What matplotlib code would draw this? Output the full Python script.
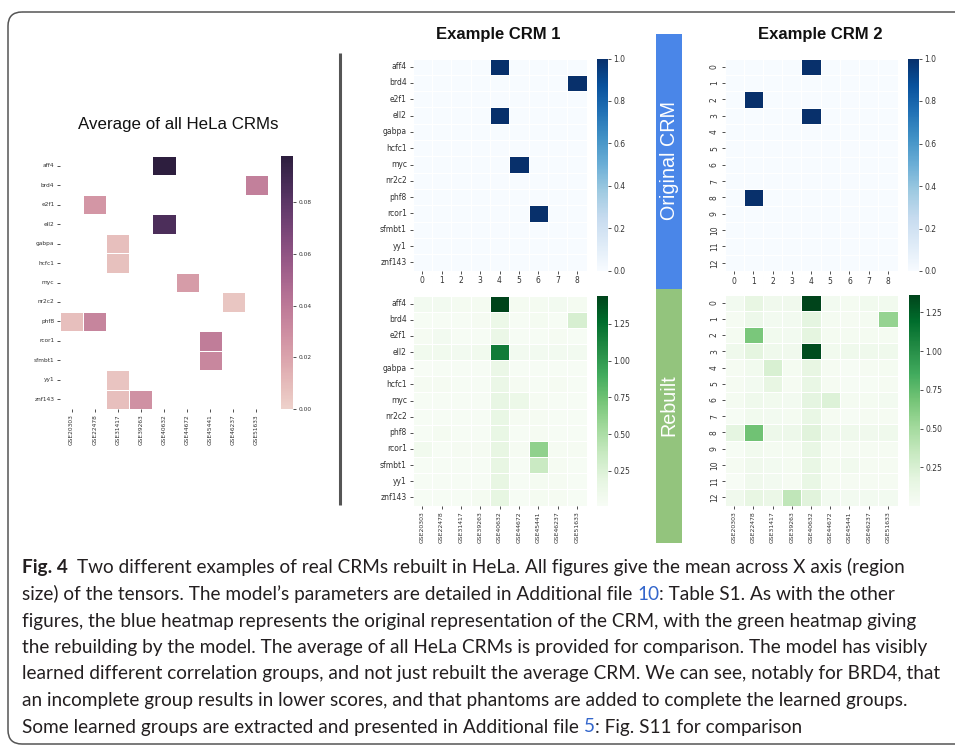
import numpy as np
import matplotlib
matplotlib.use('Agg')
import matplotlib.pyplot as plt
import seaborn as sns
from matplotlib.patches import FancyBboxPatch, Rectangle

W, H = 955, 745

tfs = ['aff4', 'brd4', 'e2f1', 'ell2', 'gabpa', 'hcfc1', 'myc', 'nr2c2',
       'phf8', 'rcor1', 'sfmbt1', 'yy1', 'znf143']
gse = ['GSE20303', 'GSE22478', 'GSE31417', 'GSE39263', 'GSE40632',
       'GSE44672', 'GSE45441', 'GSE46237', 'GSE51633']
col_idx = [str(i) for i in range(9)]
row_idx = [str(i) for i in range(13)]

avg_ticks = [0.0, 0.02, 0.04, 0.06, 0.08]
orig_ticks = [0.0, 0.2, 0.4, 0.6, 0.8, 1.0]
rebuilt_ticks = [0.25, 0.50, 0.75, 1.00, 1.25]

avg_all = np.array([
    [0, 0, 0, 0, 0.098, 0, 0, 0, 0],
    [0, 0, 0, 0, 0, 0, 0, 0, 0.036],
    [0, 0.026, 0, 0, 0, 0, 0, 0, 0],
    [0, 0, 0, 0, 0.086, 0, 0, 0, 0],
    [0, 0, 0.008, 0, 0, 0, 0, 0, 0],
    [0, 0, 0.007, 0, 0, 0, 0, 0, 0],
    [0, 0, 0, 0, 0, 0.023, 0, 0, 0],
    [0, 0, 0, 0, 0, 0, 0, 0.005, 0],
    [0.008, 0.034, 0, 0, 0, 0, 0, 0, 0],
    [0, 0, 0, 0, 0, 0, 0.038, 0, 0],
    [0, 0, 0, 0, 0, 0, 0.033, 0, 0],
    [0, 0, 0.006, 0, 0, 0, 0, 0, 0],
    [0, 0, 0.008, 0.028, 0, 0, 0, 0, 0],
])

crm1_orig = np.array([
    [0, 0, 0, 0, 1, 0, 0, 0, 0],
    [0, 0, 0, 0, 0, 0, 0, 0, 1],
    [0, 0, 0, 0, 0, 0, 0, 0, 0],
    [0, 0, 0, 0, 1, 0, 0, 0, 0],
    [0, 0, 0, 0, 0, 0, 0, 0, 0],
    [0, 0, 0, 0, 0, 0, 0, 0, 0],
    [0, 0, 0, 0, 0, 1, 0, 0, 0],
    [0, 0, 0, 0, 0, 0, 0, 0, 0],
    [0, 0, 0, 0, 0, 0, 0, 0, 0],
    [0, 0, 0, 0, 0, 0, 1, 0, 0],
    [0, 0, 0, 0, 0, 0, 0, 0, 0],
    [0, 0, 0, 0, 0, 0, 0, 0, 0],
    [0, 0, 0, 0, 0, 0, 0, 0, 0],
], dtype=float)

crm1_rebuilt = np.array([
    [0.06, 0.06, 0.05, 0.05, 1.443, 0.05, 0.05, 0.06, 0.05],
    [0.03, 0.03, 0.03, 0.04, 0.13, 0.03, 0.05, 0.03, 0.28],
    [0.04, 0.06, 0.03, 0.03, 0.14, 0.03, 0.03, 0.04, 0.03],
    [0.08, 0.07, 0.06, 0.07, 1.18, 0.06, 0.06, 0.06, 0.06],
    [0.014, 0.03, 0.03, 0.03, 0.14, 0.03, 0.03, 0.03, 0.03],
    [0.04, 0.04, 0.03, 0.03, 0.14, 0.04, 0.03, 0.04, 0.03],
    [0.03, 0.03, 0.03, 0.03, 0.16, 0.13, 0.04, 0.03, 0.03],
    [0.03, 0.03, 0.03, 0.03, 0.15, 0.04, 0.04, 0.03, 0.03],
    [0.03, 0.05, 0.03, 0.03, 0.15, 0.03, 0.04, 0.03, 0.03],
    [0.07, 0.03, 0.04, 0.04, 0.17, 0.04, 0.62, 0.04, 0.04],
    [0.03, 0.03, 0.03, 0.03, 0.17, 0.03, 0.36, 0.04, 0.03],
    [0.03, 0.03, 0.03, 0.03, 0.17, 0.03, 0.05, 0.04, 0.03],
    [0.03, 0.03, 0.03, 0.05, 0.18, 0.03, 0.05, 0.04, 0.03],
])

crm2_orig = np.array([
    [0, 0, 0, 0, 1, 0, 0, 0, 0],
    [0, 0, 0, 0, 0, 0, 0, 0, 0],
    [0, 1, 0, 0, 0, 0, 0, 0, 0],
    [0, 0, 0, 0, 1, 0, 0, 0, 0],
    [0, 0, 0, 0, 0, 0, 0, 0, 0],
    [0, 0, 0, 0, 0, 0, 0, 0, 0],
    [0, 0, 0, 0, 0, 0, 0, 0, 0],
    [0, 0, 0, 0, 0, 0, 0, 0, 0],
    [0, 1, 0, 0, 0, 0, 0, 0, 0],
    [0, 0, 0, 0, 0, 0, 0, 0, 0],
    [0, 0, 0, 0, 0, 0, 0, 0, 0],
    [0, 0, 0, 0, 0, 0, 0, 0, 0],
    [0, 0, 0, 0, 0, 0, 0, 0, 0],
], dtype=float)

crm2_rebuilt = np.array([
    [0.05, 0.15, 0.07, 0.07, 1.365, 0.05, 0.04, 0.06, 0.06],
    [0.03, 0.10, 0.05, 0.05, 0.17, 0.04, 0.03, 0.04, 0.56],
    [0.04, 0.66, 0.06, 0.05, 0.18, 0.04, 0.04, 0.04, 0.04],
    [0.08, 0.18, 0.08, 0.07, 1.33, 0.06, 0.08, 0.08, 0.08],
    [0.03, 0.06, 0.25, 0.04, 0.15, 0.03, 0.02, 0.03, 0.04],
    [0.03, 0.05, 0.15, 0.03, 0.14, 0.03, 0.02, 0.02, 0.03],
    [0.04, 0.08, 0.06, 0.05, 0.17, 0.22, 0.04, 0.04, 0.05],
    [0.02, 0.06, 0.05, 0.04, 0.14, 0.03, 0.02, 0.03, 0.03],
    [0.17, 0.70, 0.10, 0.10, 0.20, 0.08, 0.08, 0.07, 0.08],
    [0.02, 0.06, 0.04, 0.04, 0.14, 0.03, 0.03, 0.03, 0.03],
    [0.03, 0.07, 0.05, 0.04, 0.14, 0.04, 0.06, 0.03, 0.03],
    [0.005, 0.07, 0.05, 0.03, 0.14, 0.03, 0.03, 0.03, 0.03],
    [0.07, 0.15, 0.12, 0.38, 0.20, 0.05, 0.05, 0.05, 0.05],
])

caption_lines = [
    [("Fig. 4", "bold", "txt"), ("Two different examples of real CRMs rebuilt in HeLa. All figures give the mean across X axis (region", "normal", "txt")],
    [("size) of the tensors. The model\u2019s parameters are detailed in Additional file ", "normal", "txt"), ("10", "normal", "link"), (": Table S1. As with the other", "normal", "txt")],
    [("figures, the blue heatmap represents the original representation of the CRM, with the green heatmap giving", "normal", "txt")],
    [("the rebuilding by the model. The average of all HeLa CRMs is provided for comparison. The model has visibly", "normal", "txt")],
    [("learned different correlation groups, and not just rebuilt the average CRM. We can see, notably for BRD4, that", "normal", "txt")],
    [("an incomplete group results in lower scores, and that phantoms are added to complete the learned groups.", "normal", "txt")],
    [("Some learned groups are extracted and presented in Additional file ", "normal", "txt"), ("5", "normal", "link"), (": Fig. S11 for comparison", "normal", "txt")],
]

SANS = ['Liberation Sans', 'DejaVu Sans']
CAP = ['Lato', 'DejaVu Sans']
TICK = '#333333'

fig = plt.figure(figsize=(W / 100, H / 100), dpi=100)
bg = fig.add_axes([0, 0, 1, 1], zorder=0)
bg.set_xlim(0, W)
bg.set_ylim(H, 0)
bg.axis('off')


def rect(x0, y0, x1, y1):
    return [x0 / W, 1 - y1 / H, (x1 - x0) / W, (y1 - y0) / H]


def heat(data, box, cbox, cmap, xl, yl, xfs, yfs, cfs, ticks, fmt,
         yrot=0, xrot=0, mask=None, vmin=None):
    ax = fig.add_axes(rect(*box), zorder=2)
    cax = fig.add_axes(rect(*cbox), zorder=2)
    sns.heatmap(data, ax=ax, cbar_ax=cax, cmap=cmap, mask=mask, vmin=vmin,
                linewidths=0.5, linecolor='white', xticklabels=xl, yticklabels=yl)
    ax.tick_params(axis='both', length=2.5, width=0.6, pad=1.5, colors=TICK)
    ax.tick_params(axis='x', labelsize=xfs)
    ax.tick_params(axis='y', labelsize=yfs)
    plt.setp(ax.get_yticklabels(), rotation=yrot, va='center')
    plt.setp(ax.get_xticklabels(), rotation=xrot)
    cax.set_yticks(ticks)
    cax.set_yticklabels([fmt % t for t in ticks])
    cax.tick_params(labelsize=cfs, length=2.5, width=0.6, pad=1.5, colors=TICK)
    return ax, cax


# frame and separator
bg.add_patch(FancyBboxPatch((8, 12), 990, 732, boxstyle='round,pad=0,rounding_size=14',
                            fc='none', ec='#555555', lw=1.1, clip_on=False))
bg.plot([339.5, 339.5], [53, 505], color='#555555', lw=2.2, solid_capstyle='butt')

# coloured bands
bg.add_patch(Rectangle((655.5, 34), 26.5, 254.5, fc='#4a86e8', ec='none'))
bg.add_patch(Rectangle((655.5, 288.5), 26.5, 254.5, fc='#93c47d', ec='none'))
bg.text(669, 161, 'Original CRM', rotation=90, ha='center', va='center',
        color='white', fontsize=14.2, family=SANS)
bg.text(669, 405, 'Rebuilt', rotation=90, ha='center', va='center',
        color='white', fontsize=14.2, family=SANS)

# titles
bg.text(178, 125, 'Average of all HeLa CRMs', ha='center', va='center',
        fontsize=12.2, family=SANS, color='#111111')
bg.text(498, 35, 'Example CRM 1', ha='center', va='center', fontsize=12,
        fontweight='bold', family=SANS, color='#111111')
bg.text(820, 35, 'Example CRM 2', ha='center', va='center', fontsize=12,
        fontweight='bold', family=SANS, color='#111111')

# heatmaps
cube = sns.cubehelix_palette(as_cmap=True)
heat(avg_all, (60, 156, 268, 409), (281, 156, 293, 409), cube, gse, tfs,
     4.2, 4.2, 4.2, avg_ticks, '%.2f', yrot=0, xrot=90, mask=(avg_all == 0), vmin=0)
heat(crm1_orig, (412.5, 58.5, 586.5, 270.5), (597, 58.5, 608, 270.5), 'Blues',
     col_idx, tfs, 5.5, 5.5, 5.5, orig_ticks, '%.1f', yrot=0, xrot=0)
heat(crm2_orig, (724.5, 58.5, 897.5, 271), (908, 58.5, 919, 271), 'Blues',
     col_idx, row_idx, 5.5, 5.5, 5.5, orig_ticks, '%.1f', yrot=90, xrot=0)
heat(crm1_rebuilt, (412.5, 295.5, 586.5, 505.5), (597, 295.5, 608, 505.5), 'Greens',
     gse, tfs, 4.4, 5.5, 5.5, rebuilt_ticks, '%.2f', yrot=0, xrot=90)
heat(crm2_rebuilt, (724.5, 294.5, 897.5, 505.5), (909, 294.5, 919.5, 505.5), 'Greens',
     gse, row_idx, 4.4, 5.5, 5.5, rebuilt_ticks, '%.2f', yrot=90, xrot=90)

# caption
r = fig.canvas.get_renderer()


def tw(s, **kw):
    t = bg.text(0, 0, s, **kw)
    w = t.get_window_extent(r).width
    t.remove()
    return w


plain = [''.join(p[0] for p in line) for line in caption_lines]
widest = max(tw(s, fontsize=12, family=CAP) for s in plain[:6])
cfs = 12 * 919.0 / widest
colors = {'txt': '#231f20', 'link': '#3366cc'}
x0 = 22
y_base = [573.5, 600, 626.5, 653, 679.5, 706, 732.5]
kw = dict(fontsize=cfs, family=CAP)

for line, yb in zip(caption_lines, y_base):
    if line[0][1] == 'bold':
        wb = tw(line[0][0], fontweight='bold', **kw)
        bg.text(x0, yb, line[0][0], fontweight='bold', color=colors['txt'],
                va='baseline', ha='left', **kw)
        bg.text(x0 + wb + 9, yb, line[1][0], color=colors['txt'],
                va='baseline', ha='left', **kw)
        continue
    full = ''.join(p[0] for p in line)
    wfull = tw(full, **kw)
    for i, (s, wt, c) in enumerate(line):
        rest = ''.join(p[0] for p in line[i:])
        xs = x0 if i == 0 else x0 + wfull - tw(rest, **kw)
        bg.text(xs, yb, s, color=colors[c], va='baseline', ha='left', **kw)

fig.savefig('out.png', dpi=100)
